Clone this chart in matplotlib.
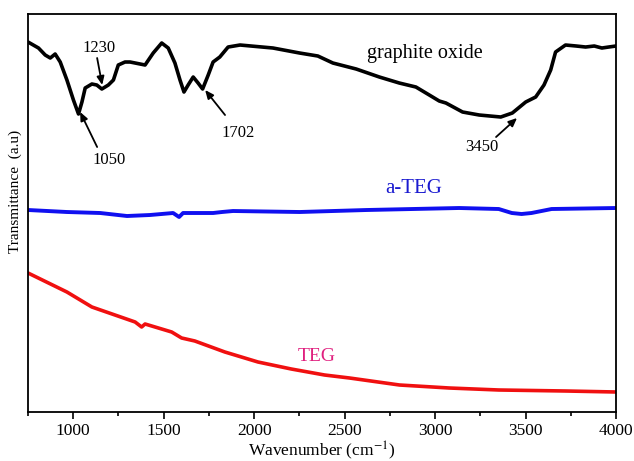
import matplotlib
matplotlib.use("Agg")
import matplotlib.pyplot as plt
from matplotlib.ticker import MultipleLocator

plt.rcParams['font.family'] = ['Liberation Serif', 'DejaVu Serif']
plt.rcParams['mathtext.fontset'] = 'stix'

# graphite oxide (wavenumber, transmittance a.u.)
go_x = [750, 808, 845, 873, 900, 928, 965, 1001, 1029, 1048, 1066, 1103, 1130, 1158, 1194,
        1222, 1249, 1286, 1314, 1342, 1397, 1442, 1489, 1525, 1562, 1590, 1612, 1635, 1663,
        1690, 1715, 1746, 1773, 1810, 1856, 1922, 2104, 2251, 2352, 2435, 2564, 2692, 2802,
        2894, 2968, 3023, 3060, 3152, 3244, 3363, 3427, 3501, 3556, 3602, 3639, 3666, 3721,
        3780, 3832, 3880, 3922, 3960, 4000]
go_y = [370, 364, 357, 354, 358, 350, 332, 312, 298, 310, 324, 328, 327, 323, 327,
        332, 347, 350, 350, 349, 347, 359, 369, 364, 349, 332, 320, 327, 335,
        329, 323, 337, 350, 355, 365, 367, 364, 359, 356, 349, 343, 335, 329,
        325, 317, 311, 309, 300, 297, 295, 299, 310, 315, 327, 342, 360, 367,
        366, 365, 366, 364, 365, 366]

# a-TEG
ateg_x = [750, 965, 1149, 1297, 1424, 1552, 1585, 1607, 1773, 1822, 1883, 2252, 2622,
          3133, 3352, 3424, 3478, 3533, 3644, 4000]
ateg_y = [202, 200, 199, 196, 197, 199, 195, 199, 199, 200, 201, 200, 202,
          204, 203, 199, 198, 199, 203, 204]

# TEG
teg_x = [750, 965, 1103, 1342, 1378, 1397, 1544, 1599, 1672, 1838, 2021, 2205,
         2389, 2527, 2803, 3078, 3352, 3721, 4000]
teg_y = [139, 120, 105, 90, 85, 88, 80, 74, 71, 60, 50, 43,
         37, 34, 27, 24, 22, 21, 20]

xticks = [1000, 1500, 2000, 2500, 3000, 3500, 4000]

fig = plt.figure(figsize=(6.34, 4.61), dpi=100)
ax = fig.add_axes([0.0442, 0.1063, 0.9274, 0.8633])

kw = dict(solid_joinstyle='round', solid_capstyle='round')
ax.plot(go_x, go_y, color='black', lw=2.6, **kw)
ax.plot(ateg_x, ateg_y, color='#1010f0', lw=2.8, **kw)
ax.plot(teg_x, teg_y, color='#f01010', lw=2.6, **kw)

ax.set_xlim(750, 4000)
ax.set_ylim(0, 398)
ax.set_xticks(xticks)
ax.xaxis.set_minor_locator(MultipleLocator(250))
ax.set_yticks([])
ax.tick_params(axis='x', which='major', direction='out', length=5, width=1.2, labelsize=12.5, pad=3)
ax.tick_params(axis='x', which='minor', direction='out', length=3, width=1.2)
for s in ax.spines.values():
    s.set_linewidth(1.3)

ax.set_xlabel('Wavenumber (cm$^{-1}$)', fontsize=12.5, labelpad=0)
fig.text(0.024, 0.585, 'Transmittance  (a.u)', rotation=90, fontsize=11, ha='center', va='center')

ax.text(2946, 359, 'graphite oxide', fontsize=14.5, ha='center', va='center')
ax.text(2880, 224, 'a-TEG', fontsize=15, ha='center', va='center', color='#1a1ad0')
ax.text(2345, 55, 'TEG', fontsize=14, ha='center', va='center', color='#e0207f')

ap = dict(arrowstyle='-|>,head_length=0.5,head_width=0.22', color='black', lw=1.3, shrinkA=0, shrinkB=0)
ax.annotate('', xy=(1160, 327), xytext=(1132, 354), arrowprops=ap)
ax.text(1143, 364, '1230', fontsize=12, ha='center', va='center')
ax.annotate('', xy=(1038, 300), xytext=(1132, 265), arrowprops=ap)
ax.text(1199, 252, '1050', fontsize=12, ha='center', va='center')
ax.annotate('', xy=(1729, 322), xytext=(1839, 297), arrowprops=ap)
ax.text(1910, 279, '1702', fontsize=12, ha='center', va='center')
ax.annotate('', xy=(3453, 294), xytext=(3337, 275), arrowprops=ap)
ax.text(3260, 265, '3450', fontsize=12, ha='center', va='center')

fig.savefig('out.png', dpi=100)
